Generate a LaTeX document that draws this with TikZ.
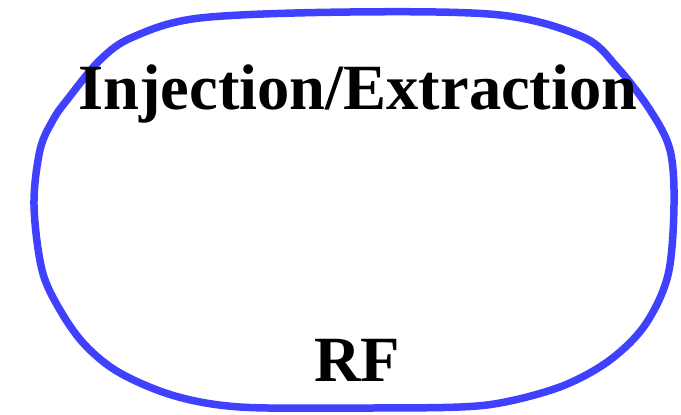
\documentclass[tikz,border=0pt]{standalone}
\usepackage{fontspec}
\setmainfont{Liberation Serif}
\definecolor{ringblue}{RGB}{64,64,255}
\begin{document}
\begin{tikzpicture}[x=1pt,y=-1pt,
  ring/.style={draw=ringblue,line width=7.5pt,line join=round},
  lbl/.style={font=\fontsize{64.5}{64.5}\selectfont\bfseries,inner sep=0pt,anchor=base}]
\useasboundingbox (0,0) rectangle (681,415);
\draw[ring] plot[smooth cycle,tension=0.55] coordinates {
(350,12) (500,15) (583,37) (617,67) (650,110) (670,150) (674,205) (668,275)
(645,325) (610,360) (565,385) (510,401) (460,407) (350,408) (240,407)
(175,396) (120,373) (85,345) (60,310) (42,270) (34,205) (40,150) (53,120)
(67,100) (100,60) (133,37) (200,18)};
\node[lbl] (ie) at (358,109) {Injection/Extraction};
\node[lbl] (rf) at (357,381) {RF};
\end{tikzpicture}
\end{document}
